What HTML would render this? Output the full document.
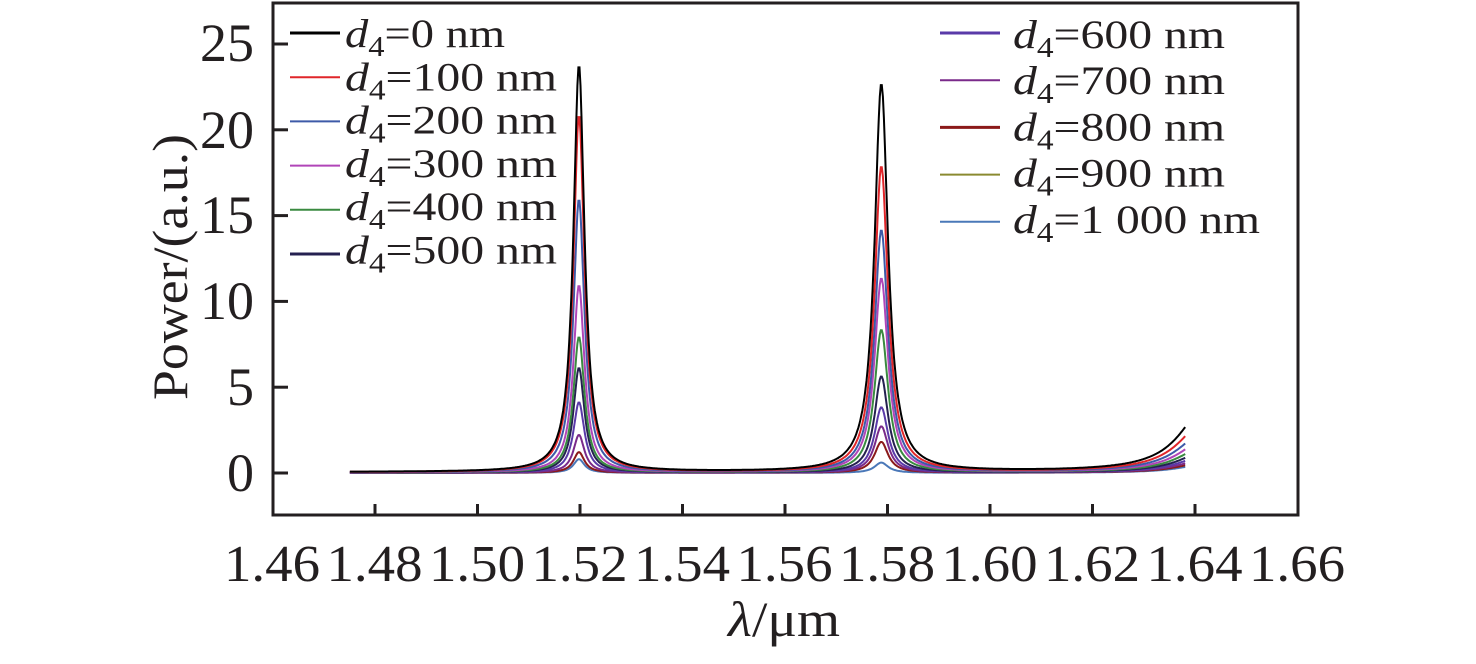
<!DOCTYPE html>
<html><head><meta charset="utf-8"><style>
body{margin:0;background:#fff;}
text{font-family:"Liberation Serif","Times New Roman",serif;fill:#231f20;}
</style></head><body>
<svg id="s" width="1476" height="659" viewBox="0 0 1476 659" xmlns="http://www.w3.org/2000/svg" font-family="Liberation Serif, serif">
<rect x="273" y="3" width="1025" height="512" fill="none" stroke="#231f20" stroke-width="3"/>
<g stroke="#231f20" stroke-width="3">
<line x1="375" y1="515" x2="375" y2="504"/><line x1="477.5" y1="515" x2="477.5" y2="504"/><line x1="580" y1="515" x2="580" y2="504"/><line x1="682.5" y1="515" x2="682.5" y2="504"/><line x1="785" y1="515" x2="785" y2="504"/><line x1="887.5" y1="515" x2="887.5" y2="504"/><line x1="990" y1="515" x2="990" y2="504"/><line x1="1092.5" y1="515" x2="1092.5" y2="504"/><line x1="1195" y1="515" x2="1195" y2="504"/>
<line x1="273" y1="473" x2="288" y2="473"/><line x1="273" y1="387.2" x2="288" y2="387.2"/><line x1="273" y1="301.4" x2="288" y2="301.4"/><line x1="273" y1="215.6" x2="288" y2="215.6"/><line x1="273" y1="129.8" x2="288" y2="129.8"/><line x1="273" y1="44" x2="288" y2="44"/>
</g>
<g font-size="54" text-anchor="end">
<text x="254" y="491">0</text><text x="254" y="405">5</text><text x="254" y="319">10</text><text x="254" y="233">15</text><text x="254" y="148">20</text><text x="254" y="61">25</text>
</g>
<g font-size="52" id="xt"></g>
<text x="728" y="636" font-size="50" textLength="112" lengthAdjust="spacingAndGlyphs"><tspan font-style="italic">λ</tspan>/μm</text>
<text transform="translate(187,400) rotate(-90)" font-size="50" textLength="266" lengthAdjust="spacingAndGlyphs">Power/(a.u.)</text>
<g id="curves" fill="none" stroke-width="2"></g>
<g id="leg" font-size="40"></g>
</svg>
<script>
var ns="http://www.w3.org/2000/svg";
var xt=document.getElementById('xt');
["1.46","1.48","1.50","1.52","1.54","1.56","1.58","1.60","1.62","1.64","1.66"].forEach(function(s,i){
 var t=document.createElementNS(ns,"text");var cx=272+i*102.5;
 t.setAttribute("x",cx-48);t.setAttribute("y",581);t.setAttribute("textLength","96");t.setAttribute("lengthAdjust","spacingAndGlyphs");
 t.textContent=s;xt.appendChild(t);
});
var p1=[23.7,20.8,15.9,10.9,7.9,6.1,4.1,2.2,1.2,0.8];
var p2=[22.6,17.8,14.1,11.3,8.3,5.6,3.8,2.7,1.8,0.6];
var lc=["#000000","#e0262a","#3d5aa8","#b045b8","#3a8a40","#252050","#5a3aa8","#7a2a8a","#8b1a1a","#8a8a30","#4a78b8"];
var curveCol=[lc[0],lc[1],lc[2],lc[3],lc[4],lc[5],lc[6],lc[7],lc[8],lc[10]];
function X(l){return 273+(l-1.46)/0.02*102.5;}
function Y(v){return 473-v*17.16;}
var g=document.getElementById('curves');
[9,8,7,6,5,4,3,2,1,0].forEach(function(i){
 var d="",g1=0.0013,g2=0.0016,e=2.8*Math.pow(0.8,i)*0.9;
 for(var l=1.475;l<=1.6381;l+=0.0002){
  var v=p1[i]*g1*g1/((l-1.5197)*(l-1.5197)+g1*g1)+p2[i]*g2*g2/((l-1.5787)*(l-1.5787)+g2*g2);
  var ge=0.006;v+=e*ge*ge/((l-1.6418)*(l-1.6418)+ge*ge)*1.45;
  v+=0.05*(1-i/10);
  d+=(d?"L":"M")+X(l).toFixed(1)+","+Y(v).toFixed(1);
 }
 var p=document.createElementNS(ns,"path");p.setAttribute("d",d);p.setAttribute("stroke",curveCol[i]);g.appendChild(p);
});
var leg=document.getElementById('leg');
var labs=["0","100","200","300","400","500","600","700","800","900","1 000"];
for(var i=0;i<11;i++){
 var col=i<6?0:1,r=i<6?i:i-6;
 var lx0=col?940:290,lx1=col?1000:340,ly=col?(33+r*47.2):(33+r*44.2);
 var tx=col?1013:345,ty=col?(48+r*46.2):(47+r*43.3);
 var ln=document.createElementNS(ns,"line");
 ln.setAttribute("x1",lx0);ln.setAttribute("x2",lx1);ln.setAttribute("y1",ly);ln.setAttribute("y2",ly);
 ln.setAttribute("stroke",lc[i]);ln.setAttribute("stroke-width",(i==0||i==5||i==6||i==8)?3:2);leg.appendChild(ln);
 var t=document.createElementNS(ns,"text");t.setAttribute("x",tx);t.setAttribute("y",ty);
 var w=i==0?160:(i==10?247:212);
 t.setAttribute("textLength",w);t.setAttribute("lengthAdjust","spacingAndGlyphs");
 t.innerHTML='<tspan font-style="italic">d</tspan><tspan font-size="28" dy="9">4</tspan><tspan dy="-9">='+labs[i]+' nm</tspan>';
 leg.appendChild(t);
}
</script>
</body></html>
